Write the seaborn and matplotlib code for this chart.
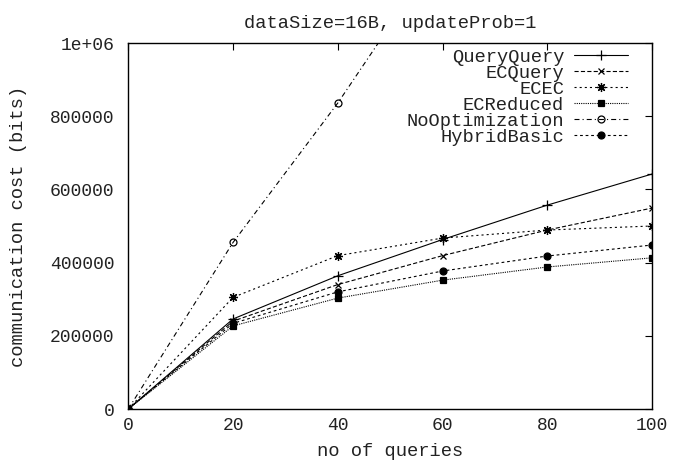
import matplotlib
matplotlib.use("Agg")
import matplotlib.pyplot as plt
import seaborn as sns
import pandas as pd

# ---- data ----
queries = [0, 20, 40, 60, 80, 100]
query_query = [0, 246000, 364000, 463000, 557000, 642000]
ec_query = [0, 240000, 340000, 419000, 489000, 549000]
ec_ec = [0, 305000, 419000, 467000, 489000, 500000]
ec_reduced = [0, 227000, 303000, 352000, 388000, 413000]
no_opt_queries = [0, 20, 40, 60]
no_optimization = [0, 455000, 836000, 1260000]
hybrid_basic = [0, 234000, 320000, 377000, 418000, 448000]

x_ticks = [0, 20, 40, 60, 80, 100]
y_ticks = [0, 200000, 400000, 600000, 800000, 1000000]
y_tick_labels = ["0", "200000", "400000", "600000", "800000", "1e+06"]

title = "dataSize=16B, updateProb=1"
x_label = "no of queries"
y_label = "communication cost (bits)"

sns.set_theme(style="white")
plt.rcParams["font.family"] = ["Liberation Mono", "DejaVu Sans Mono"]
plt.rcParams["lines.scale_dashes"] = False
FS = 13.5
TFS = 13

fig = plt.figure(figsize=(6.73, 4.66), dpi=100)
ax = fig.add_axes([128.3 / 673, 57 / 466, 523.7 / 673, 366 / 466])

series = [
    ("QueryQuery", queries, query_query, "-", "+", "black", 6.5),
    ("ECQuery", queries, ec_query, (0, (3.0, 1.6)), "x", "black", 5),
    ("ECEC", queries, ec_ec, (0, (1.5, 2.2)), (8, 2, 0), "black", 6.5),
    ("ECReduced", queries, ec_reduced, (0, (0.8, 0.8)), "s", "black", 5),
    ("NoOptimization", no_opt_queries, no_optimization, (0, (3.6, 2.2, 0.8, 2.2)), "o", "none", 5),
    ("HybridBasic", queries, hybrid_basic, (0, (2.0, 2.0)), "o", "black", 5),
]

for name, xs, ys, ls, mk, mfc, ms in series:
    df = pd.DataFrame({"x": xs, "y": ys})
    sns.lineplot(data=df, x="x", y="y", ax=ax, color="black", linewidth=0.8,
                 linestyle=ls, marker=mk, markersize=ms, markerfacecolor=mfc,
                 markeredgecolor="black", markeredgewidth=0.9, label=name,
                 errorbar=None, sort=False)

ax.set_xlim(0, 100)
ax.set_ylim(0, 1000000)
ax.set_xticks(x_ticks)
ax.set_xticklabels([str(v) for v in x_ticks])
ax.set_yticks(y_ticks)
ax.set_yticklabels(y_tick_labels)

for s in ax.spines.values():
    s.set_color("black")
    s.set_linewidth(1.0)
ax.tick_params(direction="in", length=5, width=0.8, color="black",
               top=True, right=True, labelsize=TFS, labelcolor="#222222")
ax.tick_params(axis="y", pad=10)
ax.tick_params(axis="x", pad=6)

ax.set_title(title, fontsize=FS, pad=11, color="#222222")
ax.set_xlabel(x_label, fontsize=FS, color="#222222")
ax.set_ylabel(y_label, fontsize=FS, color="#222222")
ax.xaxis.set_label_coords(0.5, -0.092)
ax.yaxis.set_label_coords(-0.193, 0.5)

leg = ax.legend(loc="upper right", bbox_to_anchor=(0.954, 0.985), frameon=False,
                markerfirst=False, fontsize=FS, borderpad=0, handlelength=2.85,
                handletextpad=0.55, labelspacing=-0.06, borderaxespad=0)
for t in leg.get_texts():
    t.set_color("#222222")

fig.savefig("out.png", dpi=100)
